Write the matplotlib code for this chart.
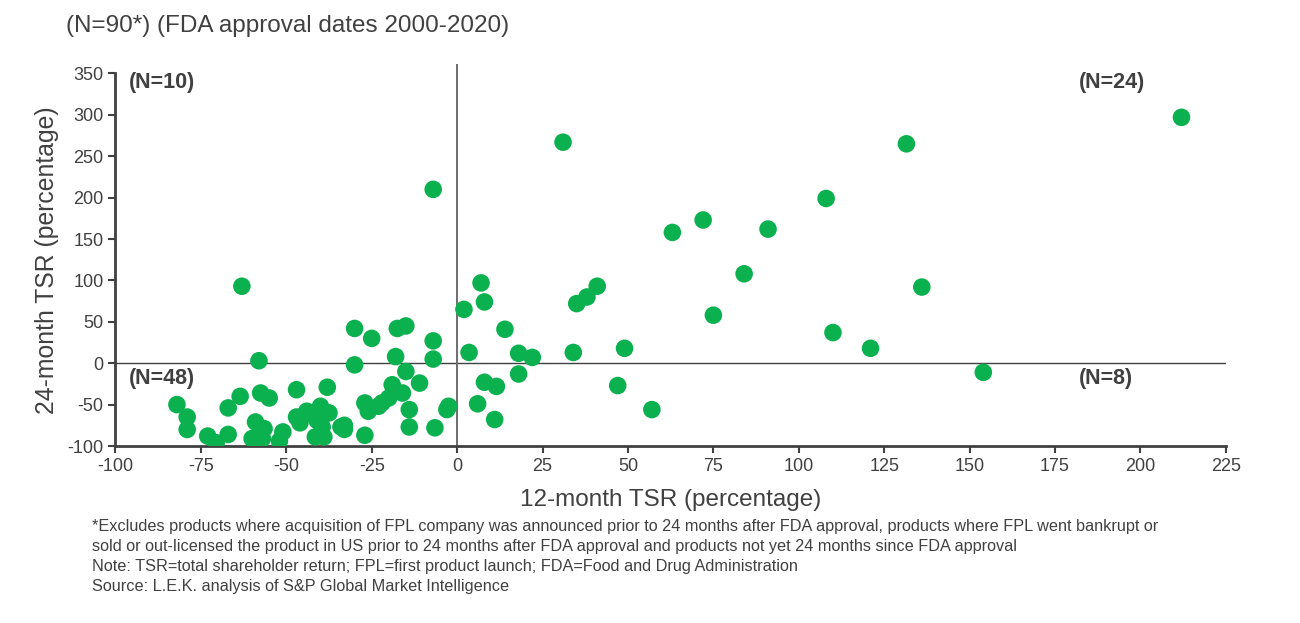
import numpy as np
import matplotlib
matplotlib.use('Agg')
import matplotlib.pyplot as plt

plt.rcParams['font.family'] = ['Liberation Sans', 'DejaVu Sans']
plt.rcParams['axes.unicode_minus'] = False

# 12-month TSR (x) and 24-month TSR (y), percent
# top right quadrant (N=24)
tr_x = [212, 131.5, 108, 91, 72, 63, 84, 136, 75, 110, 121, 31, 7, 8, 2, 14, 3.5, 18, 22, 34, 35, 38, 41, 49]
tr_y = [297, 265, 199, 162, 173, 158, 108, 92, 58, 37, 18, 267, 97, 74, 65, 41, 13, 12, 7, 13, 72, 80, 93, 18]
# top left quadrant (N=10)
tl_x = [-7, -63, -7, -7, -30, -25, -17.5, -15, -18, -58]
tl_y = [210, 93, 27, 5, 42, 30, 42, 45, 8, 3]
# bottom right quadrant (N=8)
br_x = [154, 47, 57, 18, 8, 11.5, 6, 11]
br_y = [-11, -27, -56, -13, -23, -28, -49, -68]
# bottom left quadrant (N=48)
bl_x = [-30, -15, -11, -19, -16, -20, -22, -23, -27, -26, -33, -27, -14, -14, -6.5, -2.5,
        -3, -63.5, -67, -57.5, -55, -47, -38, -67, -59, -56.5, -60, -57, -52, -51, -47, -46,
        -44, -40, -37.5, -41, -39.5, -41.5, -39, -34, -82, -79, -79, -73, -70.5, -33, -42, -58]
bl_y = [-2, -10, -24, -26, -36, -42, -48, -52, -48, -58, -75, -87, -56, -77, -78, -52,
        -56, -40, -54, -36, -42, -32, -29, -86, -71, -79, -91, -91, -94, -83, -65, -72,
        -58, -52, -60, -69, -77, -89, -89, -77, -50, -65, -80, -88, -96, -80, -62, -88]

quad_labels = ['(N=10)', '(N=24)', '(N=48)', '(N=8)']
xticks = [-100, -75, -50, -25, 0, 25, 50, 75, 100, 125, 150, 175, 200, 225]
yticks = [-100, -50, 0, 50, 100, 150, 200, 250, 300, 350]

x = np.array(tr_x + tl_x + br_x + bl_x)
y = np.array(tr_y + tl_y + br_y + bl_y)

green = '#0AB14E'
grey = '#404040'

fig = plt.figure(figsize=(13, 6.23), dpi=100)
ax = fig.add_axes([0.0888, 0.2841, 0.8542, 0.598])

ax.axhline(0, color=grey, lw=1.0, zorder=1)
ax.axvline(0, ymin=0, ymax=1.024, color='#6e6e6e', lw=1.4, zorder=1, clip_on=False)
ax.scatter(x, y, s=160, color=green, edgecolors='none', zorder=3)

ax.set_xlim(-100, 225)
ax.set_ylim(-100, 350)
ax.set_xticks(xticks)
ax.set_yticks(yticks)
ax.tick_params(colors=grey, labelsize=13, width=1.5, length=5, direction='out')
for side in ['top', 'right']:
    ax.spines[side].set_visible(False)
for side in ['left', 'bottom']:
    ax.spines[side].set_color(grey)
    ax.spines[side].set_linewidth(2)

ax.set_xlabel('12-month TSR (percentage)', fontsize=17.5, color=grey, labelpad=10)
ax.set_ylabel('24-month TSR (percentage)', fontsize=17.8, color=grey, labelpad=6)

qx = [-96.2, 182, -96.2, 182]
qy = [339, 339, -19, -19]
for lab, px, py in zip(quad_labels, qx, qy):
    ax.text(px, py, lab, fontsize=15.5, fontweight='bold', color=grey, va='center', ha='left')

fig.text(66 / 1300, 1 - 26 / 623, '(N=90*) (FDA approval dates 2000-2020)',
         fontsize=17.5, color=grey, va='center', ha='left')

notes = ['*Excludes products where acquisition of FPL company was announced prior to 24 months after FDA approval, products where FPL went bankrupt or',
         'sold or out-licensed the product in US prior to 24 months after FDA approval and products not yet 24 months since FDA approval',
         'Note: TSR=total shareholder return; FPL=first product launch; FDA=Food and Drug Administration',
         'Source: L.E.K. analysis of S&P Global Market Intelligence']
for i, line in enumerate(notes):
    fig.text(92 / 1300, 1 - (527 + 19.7 * i) / 623, line, fontsize=11.7, color=grey,
             va='center', ha='left')

fig.savefig('out.png', dpi=100, facecolor='white')
